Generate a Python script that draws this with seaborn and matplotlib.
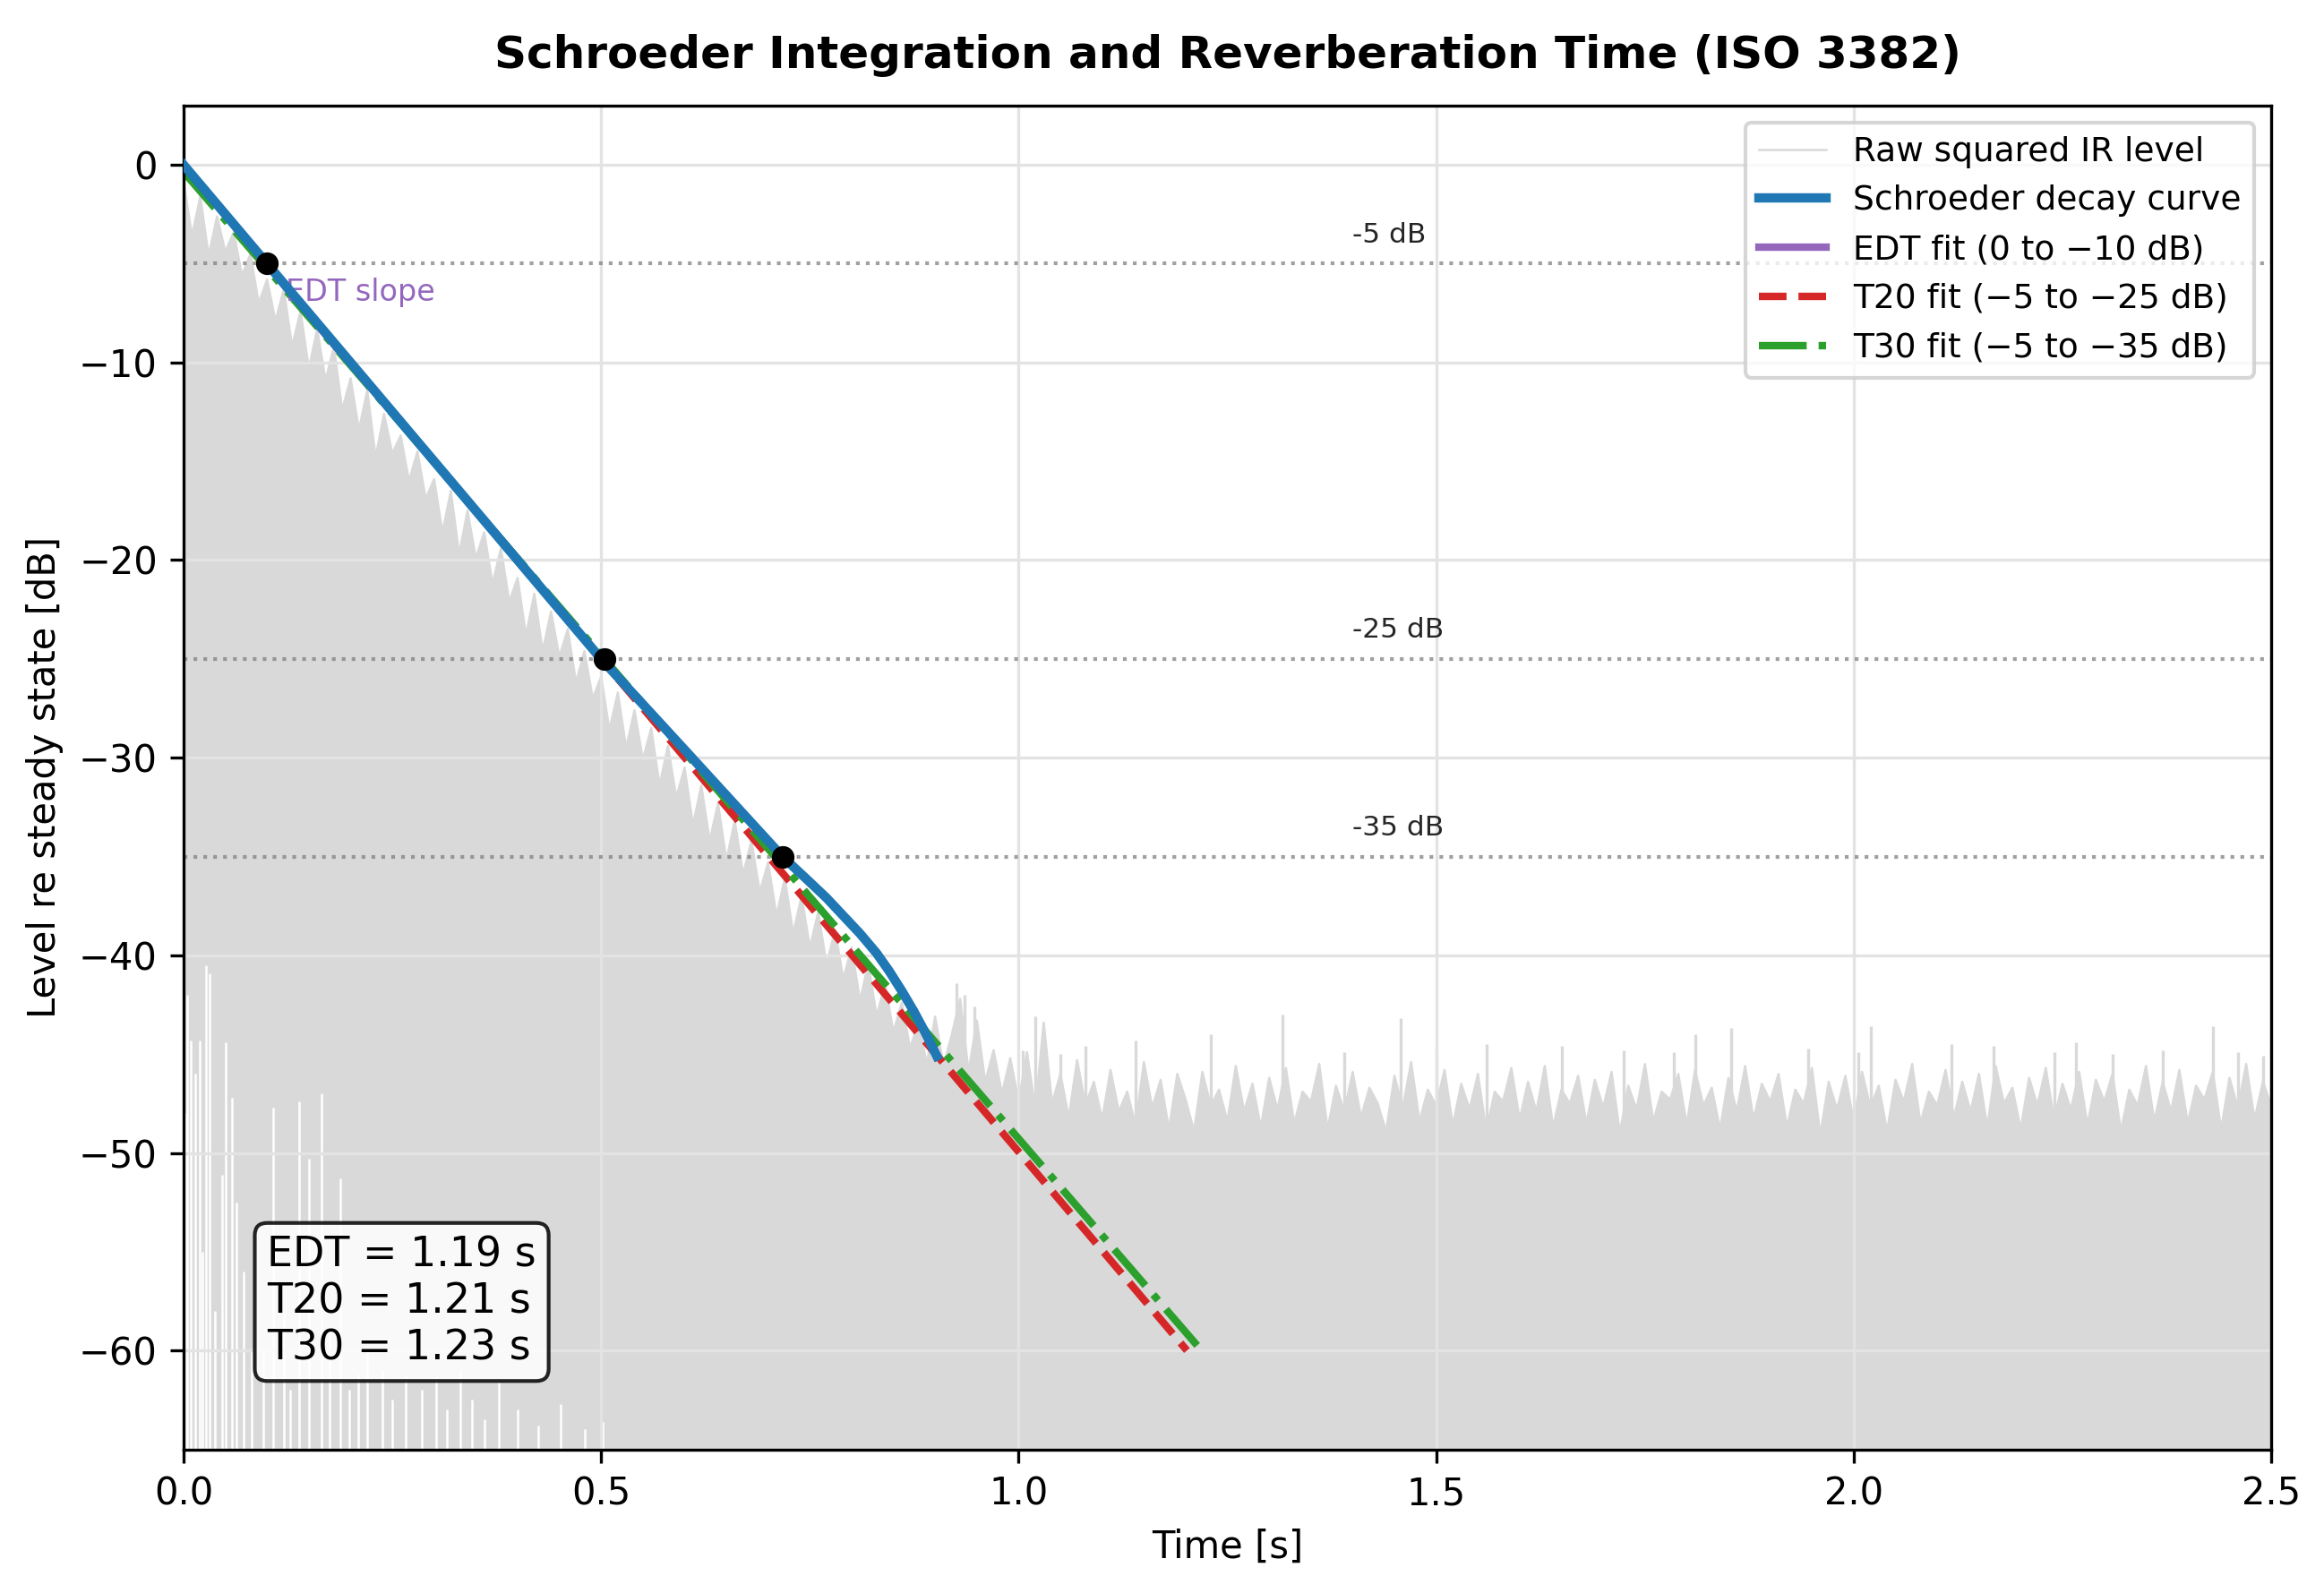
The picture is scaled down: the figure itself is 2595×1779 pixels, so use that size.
import numpy as np
import pandas as pd
import matplotlib
matplotlib.use('Agg')
import matplotlib.pyplot as plt
import seaborn as sns

# --- values ---

# Schroeder backward-integrated decay curve [s], [dB]
sch_t = [0.0, 0.1, 0.2, 0.3, 0.4, 0.5, 0.6, 0.717, 0.745, 0.77, 0.79, 0.81, 0.83,
         0.845, 0.86, 0.874, 0.888, 0.902]
sch_db = [0.0, -5.0, -10.0, -15.0, -20.0, -25.0, -29.6, -35.0, -36.1, -37.1, -38.0, -38.9,
          -39.9, -40.8, -41.8, -42.8, -43.9, -45.1]

# linear fits (start / end points)
edt_t = [0.0, 0.2]
edt_db = [0.0, -10.1]
t20_t = [0.0, 1.2015]
t20_db = [-0.05, -60.0]
t30_t = [0.0, 1.219]
t30_db = [-0.35, -60.0]

# evaluation points on the decay curve
eval_t = [0.1, 0.504, 0.717]
eval_db = [-5.0, -25.0, -35.0]
ref_levels = [-5, -25, -35]

# raw squared IR level, traced every 10 ms from 0 to 2.5 s
raw_t = np.linspace(0, 2.5, 251)
raw_db = [
    -0.8, -3.6, -1.6, -4.6, -2.6, -4.4, -3.4, -5.6, -4.5, -7.0,
    -5.8, -7.9, -6.3, -9.2, -7.4, -10.3, -8.3, -10.9, -9.2, -12.4,
    -10.8, -13.4, -11.4, -14.8, -12.6, -14.6, -13.7, -16.0, -14.5, -16.9,
    -15.9, -18.6, -16.5, -19.7, -17.5, -19.9, -18.6, -21.2, -19.4, -22.1,
    -20.9, -23.8, -21.7, -24.6, -22.6, -24.9, -23.5, -26.2, -24.6, -27.0,
    -25.9, -28.6, -26.7, -29.5, -27.6, -30.1, -28.5, -31.4, -29.4, -32.0,
    -30.5, -33.4, -31.4, -34.2, -32.3, -35.2, -33.2, -35.9, -34.2, -36.8,
    -35.3, -38.0, -36.1, -38.9, -37.0, -39.6, -37.8, -40.5, -38.7, -41.2,
    -39.6, -42.3, -40.4, -43.1, -41.4, -43.9, -42.4, -44.7, -43.4, -45.5,
    -43.1, -45.6, -44.0, -42.2, -45.9, -43.3, -46.4, -44.8, -47.0, -45.2,
    -47.4, -44.9, -47.8, -43.4, -47.5, -46.0, -48.2, -45.3, -47.6, -46.4,
    -48.3, -45.8, -47.9, -46.9, -48.6, -45.4, -47.7, -46.3, -48.8, -46.0,
    -47.3, -48.9, -45.9, -47.6, -46.8, -48.4, -45.6, -47.9, -46.5, -48.7,
    -46.2, -47.8, -45.7, -48.5, -46.9, -47.4, -45.5, -48.8, -46.6, -47.9,
    -45.9, -48.2, -46.7, -47.5, -48.9, -46.1, -47.7, -45.4, -48.4, -46.8,
    -47.6, -45.8, -48.6, -46.5, -47.8, -46.0, -48.9, -46.9, -47.4, -45.7,
    -48.3, -46.4, -47.9, -45.6, -48.7, -46.8, -47.5, -46.1, -48.5, -46.3,
    -47.7, -45.9, -49.0, -46.6, -47.8, -45.5, -48.4, -46.9, -47.3, -46.0,
    -48.6, -45.8, -47.6, -46.7, -48.8, -46.2, -47.9, -45.6, -48.3, -46.5,
    -47.4, -46.0, -48.7, -46.8, -47.5, -45.7, -49.1, -46.4, -47.8, -46.1,
    -48.4, -45.9, -47.7, -46.6, -48.9, -46.3, -47.4, -45.5, -48.5, -46.9,
    -47.6, -45.8, -48.2, -46.4, -47.9, -46.0, -48.7, -45.6, -47.5, -46.7,
    -48.8, -46.2, -47.6, -45.7, -48.3, -46.5, -47.8, -45.9, -48.6, -46.3,
    -47.4, -46.0, -48.9, -46.8, -47.6, -45.6, -48.4, -46.4, -47.9, -45.8,
    -48.5, -46.6, -47.3, -45.9, -48.8, -46.2, -47.7, -45.5, -48.3, -46.4,
    -47.6,
]

# tallest single spikes of the raw trace
spike_t = [0.925, 0.935, 0.947, 1.005, 1.02, 1.05, 1.08, 1.14, 1.23, 1.316, 1.39, 1.457,
           1.50, 1.56, 1.65, 1.725, 1.785, 1.81, 1.853, 1.945, 2.005, 2.02, 2.117, 2.167,
           2.24, 2.266, 2.31, 2.37, 2.43, 2.46, 2.49]
spike_db = [-41.4, -42.0, -42.6, -44.8, -43.1, -45.0, -44.6, -44.3, -44.0, -43.0, -44.9,
            -43.2, -44.7, -44.5, -44.6, -44.8, -44.9, -44.0, -43.7, -44.7, -44.9, -43.6,
            -44.5, -44.6, -44.9, -44.4, -45.0, -44.8, -43.6, -44.9, -45.1]

# deep dips near the start (white gaps up from the bottom)
dip_t = [0.002, 0.004, 0.009, 0.014, 0.019, 0.023, 0.027, 0.031, 0.038, 0.046, 0.05, 0.058,
         0.063, 0.072, 0.082, 0.095, 0.107, 0.12, 0.128, 0.138, 0.15, 0.165, 0.175, 0.188,
         0.198, 0.209, 0.22, 0.238, 0.25, 0.266, 0.285, 0.302, 0.315, 0.331, 0.345, 0.36,
         0.377, 0.40, 0.425, 0.452, 0.48, 0.502]
dip_db = [-48.0, -42.0, -44.3, -46.0, -44.3, -55.0, -40.5, -40.9, -58.0, -51.1, -44.4, -47.2,
          -52.5, -56.0, -59.9, -60.0, -47.7, -58.0, -62.0, -47.4, -50.3, -47.0, -59.0, -51.3,
          -62.0, -61.2, -60.0, -61.0, -62.5, -61.2, -62.0, -61.3, -63.0, -61.0, -62.5, -63.5,
          -61.6, -63.0, -63.8, -62.7, -64.0, -63.6]

rt_text = 'EDT = 1.19 s\nT20 = 1.21 s\nT30 = 1.23 s'

# --- plot ---
raw_color = '#d9d9d9'

fig, ax = plt.subplots(figsize=(8.65, 5.93), dpi=300)
fig.subplots_adjust(left=0.079, right=0.9773, bottom=0.0902, top=0.9337)

# raw trace
ax.fill_between(raw_t, raw_db, -80, color=raw_color, lw=0, zorder=1)
ax.vlines(spike_t, -80, spike_db, color=raw_color, lw=0.8, zorder=1)
ax.vlines(dip_t, -80, dip_db, color='white', lw=0.6, zorder=1.1)
sns.lineplot(x=raw_t, y=raw_db, color=raw_color, lw=0.6, sort=False,
             label='Raw squared IR level', ax=ax, zorder=1)

# reference levels
for lvl in ref_levels:
    ax.axhline(lvl, color='gray', ls=':', lw=1.0, alpha=0.75, zorder=2)
    ax.text(1.4, lvl + 0.8, f'{lvl} dB', fontsize=7.5, color='0.15', va='bottom')

sns.lineplot(x=sch_t, y=sch_db, color='#1f77b4', lw=2.5, sort=False,
             label='Schroeder decay curve', ax=ax, zorder=4)
sns.lineplot(x=edt_t, y=edt_db, color='#9467bd', lw=2.0, sort=False,
             label='EDT fit (0 to \u221210 dB)', ax=ax, zorder=2)
sns.lineplot(x=t20_t, y=t20_db, color='#d62728', lw=2.0, ls='--', sort=False,
             label='T20 fit (\u22125 to \u221225 dB)', ax=ax, zorder=2.2)
sns.lineplot(x=t30_t, y=t30_db, color='#2ca02c', lw=2.0, ls='-.', sort=False,
             label='T30 fit (\u22125 to \u221235 dB)', ax=ax, zorder=2.3)

sns.scatterplot(x=eval_t, y=eval_db, color='black', s=32, edgecolor='black',
                linewidth=0.4, ax=ax, zorder=5)

ax.text(0.122, -6.9, 'EDT slope', fontsize=8, color='#9467bd', va='baseline', zorder=3)

ax.text(0.04, 0.06, rt_text, transform=ax.transAxes, fontsize=11, va='bottom', ha='left',
        bbox=dict(boxstyle='round', facecolor='white', edgecolor='black', alpha=0.85))

ax.set_xlim(0, 2.5)
ax.set_ylim(-65, 3)
ax.grid(True, color='#e3e3e3', lw=0.8)
ax.set_xlabel('Time [s]')
ax.set_ylabel('Level re steady state [dB]')
ax.set_title('Schroeder Integration and Reverberation Time (ISO 3382)',
             fontsize=12, fontweight='bold', pad=10)
ax.legend(loc='upper right', fontsize=9)

fig.savefig('out.png', dpi=300)
